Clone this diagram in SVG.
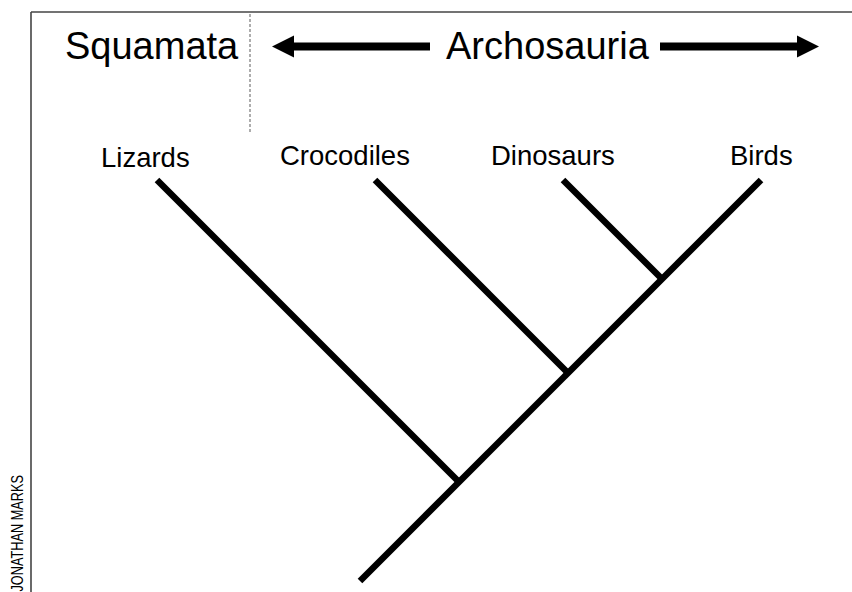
<svg xmlns="http://www.w3.org/2000/svg" width="852" height="592" viewBox="0 0 852 592">
<style>
.lbl{font-family:"Liberation Sans",Arial,sans-serif;fill:#000}
.big{font-size:38px}
.tax{font-size:27.5px}
.br{stroke:#000;stroke-width:6.5;fill:none;stroke-linecap:butt}
</style>
<rect width="852" height="592" fill="#fff"/>
<g id="frame">
<line x1="31" y1="12" x2="852" y2="12" stroke="#444" stroke-width="1.6"/>
<line x1="31" y1="12" x2="31" y2="592" stroke="#444" stroke-width="1.6"/>
<line x1="250" y1="14" x2="250" y2="132" stroke="#777" stroke-width="1.2" stroke-dasharray="3 2"/>
</g>
<g id="squamata"><text class="lbl big" x="65" y="59">Squamata</text></g>
<g id="archosauria">
<text class="lbl big" x="446" y="59">Archosauria</text>
<rect x="292" y="42.5" width="138" height="8" fill="#000"/>
<polygon points="272,46.5 294,35.5 294,57.5" fill="#000"/>
<rect x="660" y="42.5" width="139" height="8" fill="#000"/>
<polygon points="819,46.5 797,35.5 797,57.5" fill="#000"/>
</g>
<g id="lizards"><text class="lbl tax" x="101" y="167">Lizards</text></g>
<g id="crocodiles"><text class="lbl tax" x="280" y="165">Crocodiles</text></g>
<g id="dinosaurs"><text class="lbl tax" x="491" y="165">Dinosaurs</text></g>
<g id="birds"><text class="lbl tax" x="730" y="165">Birds</text></g>
<g id="connectors">
<line class="br" x1="360" y1="581" x2="761" y2="180"/>
<line class="br" x1="157" y1="180" x2="459" y2="482"/>
<line class="br" x1="375" y1="180" x2="568" y2="373"/>
<line class="br" x1="563" y1="180" x2="662" y2="279"/>
</g>
<g id="credit"><text class="lbl" font-size="16" fill="#222" transform="rotate(-90)" x="-591.6" y="22.5" textLength="116.6" lengthAdjust="spacingAndGlyphs">JONATHAN MARKS</text></g>
</svg>
